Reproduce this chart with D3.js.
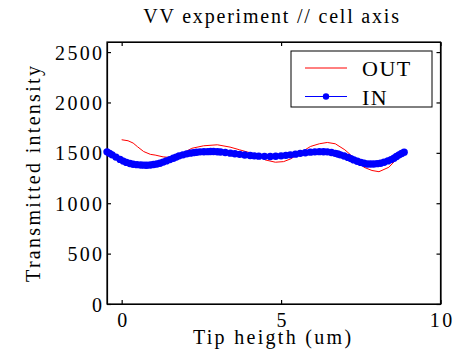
<!DOCTYPE html>
<html>
<head>
<meta charset="utf-8">
<script src="https://cdn.jsdelivr.net/npm/d3@7"></script>
<style>
    body { margin: 0; background: #ffffff; }
</style>
</head>
<body>
<div id="chart"></div>
<script>
// Tip height (um) and transmitted intensity
const outX = [0.0, 0.2, 0.36, 0.5, 0.69, 0.9, 1.05, 1.3, 1.5, 1.7, 2.0, 2.2, 2.57, 3.0, 3.4, 3.7, 4.0, 4.3, 4.5,
    4.82, 5.08, 5.3, 5.6, 5.92, 6.2, 6.45, 6.7, 7.0, 7.18, 7.4, 7.6, 7.85, 8.07, 8.38, 8.6, 8.8];
const outY = [1630, 1620, 1597, 1560, 1513, 1485, 1478, 1460, 1455, 1470, 1510, 1545, 1570, 1580, 1557, 1530, 1503, 1470, 1430,
    1407, 1413, 1440, 1500, 1563, 1590, 1603, 1590, 1530, 1480, 1420, 1357, 1325, 1313, 1357, 1430, 1480];

const inX = [-0.46, -0.38, -0.3, -0.18, -0.05, 0.05, 0.15, 0.26, 0.36, 0.48, 0.6, 0.7, 0.79, 0.9, 1.0, 1.1, 1.2, 1.3, 1.4,
    1.51, 1.62, 1.71, 1.8, 1.92, 2.04, 2.15, 2.25, 2.35, 2.46, 2.58, 2.7, 2.79, 2.88, 3.0, 3.1, 3.25, 3.41, 3.55, 3.7,
    3.86, 4.03, 4.16, 4.3, 4.48, 4.66, 4.83, 5.0, 5.15, 5.29, 5.45, 5.6, 5.76, 5.92, 6.06, 6.2, 6.33, 6.45, 6.58, 6.7,
    6.78, 6.86, 6.98, 7.1, 7.19, 7.28, 7.39, 7.5, 7.6, 7.7, 7.8, 7.9, 8.01, 8.12, 8.23, 8.35, 8.45, 8.54, 8.62, 8.7, 8.78, 8.86];
const inY = [1510, 1495, 1480, 1458, 1435, 1418, 1405, 1395, 1387, 1383, 1380, 1378, 1377, 1380, 1385, 1390, 1397, 1408, 1420,
    1433, 1447, 1458, 1470, 1480, 1490, 1497, 1502, 1506, 1510, 1511, 1512, 1513, 1513, 1511, 1508, 1503, 1497, 1491, 1485,
    1479, 1473, 1470, 1467, 1465, 1463, 1466, 1470, 1475, 1480, 1487, 1495, 1501, 1507, 1510, 1512, 1511, 1510, 1503, 1495,
    1488, 1480, 1468, 1455, 1443, 1430, 1417, 1405, 1397, 1390, 1389, 1390, 1393, 1397, 1407, 1420, 1433, 1447, 1463, 1480, 1493, 1507];

const xTicks = [0, 5, 10];
const yTicks = [0, 500, 1000, 1500, 2000, 2500];
const seriesNames = ["OUT", "IN"];
const seriesColors = ["#ff0000", "#0000ff"];

const width = 460;
const height = 355;
const plot = {left: 107, right: 440.5, top: 42, bottom: 304};
const spacing = 2.3;
const fontFamily = "'Liberation Serif', 'Times New Roman', 'DejaVu Serif', serif";

let svg = d3.select("#chart")
    .append("svg")
    .attr("width", width)
    .attr("height", height);

let xScale = d3.scaleLinear()
    .domain([-0.46, 10])
    .range([plot.left, plot.right]);

let yScale = d3.scaleLinear()
    .domain([0, 2600])
    .range([plot.bottom, plot.top]);

// Draws the box with inward ticks on all four sides
function drawAxes(svg) {
    let axes = svg.append("g").attr("class", "axes");

    let bottom = axes.append("g")
        .attr("transform", "translate(0," + plot.bottom + ")")
        .call(d3.axisBottom(xScale).tickValues(xTicks).tickSize(-4).tickSizeOuter(0).tickFormat(d3.format("d")));
    bottom.selectAll("text")
        .attr("y", 23)
        .attr("dy", 0)
        .attr("dx", spacing / 2);

    axes.append("g")
        .attr("transform", "translate(0," + plot.top + ")")
        .call(d3.axisTop(xScale).tickValues(xTicks).tickSize(-4).tickSizeOuter(0).tickFormat(""));

    let left = axes.append("g")
        .attr("transform", "translate(" + plot.left + ",0)")
        .call(d3.axisLeft(yScale).tickValues(yTicks).tickSize(-4).tickSizeOuter(0).tickPadding(5)
            .tickFormat(d3.format("d")));
    left.selectAll("text")
        .attr("dx", spacing)
        .attr("dy", "0.35em");

    axes.append("g")
        .attr("transform", "translate(" + plot.right + ",0)")
        .call(d3.axisRight(yScale).tickValues(yTicks).tickSize(-4).tickSizeOuter(0).tickFormat(""));

    axes.selectAll("g").attr("font-family", null).attr("font-size", null);
    axes.selectAll("text")
        .style("font-family", fontFamily)
        .style("font-size", "20px")
        .style("letter-spacing", spacing + "px")
        .attr("fill", "#000000");
    axes.selectAll("path, line")
        .attr("stroke", "#000000")
        .attr("stroke-width", 1.2);

    // close the box
    axes.append("rect")
        .attr("x", plot.left)
        .attr("y", plot.top)
        .attr("width", plot.right - plot.left)
        .attr("height", plot.bottom - plot.top)
        .attr("fill", "none")
        .attr("stroke", "#000000")
        .attr("stroke-width", 1.2);
}

// Draws one series as a line, optionally with markers
function drawSeries(svg, xs, ys, color, lineWidth, markerRadius) {
    let pts = xs.map(function (d, i) { return [d, ys[i]]; });
    let line = d3.line()
        .x(function (d) { return xScale(d[0]); })
        .y(function (d) { return yScale(d[1]); });

    svg.append("path")
        .datum(pts)
        .attr("d", line)
        .attr("fill", "none")
        .attr("stroke", color)
        .attr("stroke-width", lineWidth);

    if (markerRadius > 0) {
        svg.append("g")
            .selectAll("circle")
            .data(pts)
            .enter()
            .append("circle")
            .attr("cx", function (d) { return xScale(d[0]); })
            .attr("cy", function (d) { return yScale(d[1]); })
            .attr("r", markerRadius)
            .attr("fill", color);
    }
}

// Adds a text with the chart's serif look
function addText(parent, x, y, str, size, anchor, ls) {
    return parent.append("text")
        .attr("x", x)
        .attr("y", y)
        .style("font-family", fontFamily)
        .style("font-size", size + "px")
        .style("letter-spacing", ls + "px")
        .style("text-anchor", anchor)
        .attr("fill", "#000000")
        .text(str);
}

drawAxes(svg);
drawSeries(svg, outX, outY, seriesColors[0], 1, 0);
drawSeries(svg, inX, inY, seriesColors[1], 2, 3.7);

// legend
let legend = svg.append("g").attr("class", "legend");
legend.append("rect")
    .attr("x", 291)
    .attr("y", 51)
    .attr("width", 141)
    .attr("height", 56)
    .attr("fill", "#ffffff")
    .attr("stroke", "#000000")
    .attr("stroke-width", 1);

seriesNames.forEach(function (name, i) {
    let ly = 68 + i * 28.5;
    legend.append("line")
        .attr("x1", 305)
        .attr("x2", 347)
        .attr("y1", ly)
        .attr("y2", ly)
        .attr("stroke", seriesColors[i])
        .attr("stroke-width", 1);
    if (i === 1) {
        legend.append("circle")
            .attr("cx", 326)
            .attr("cy", ly)
            .attr("r", 3.2)
            .attr("fill", seriesColors[i]);
    }
    addText(legend, 362, ly + 8, name, 22, "start", 1.5);
});

// title
addText(svg, 271 + 1, 23, "VV experiment // cell axis", 20, "middle", 1.8);

// text label for the x axis
addText(svg, 272 + spacing / 2, 344, "Tip heigth (um)", 20, "middle", spacing);

// text label for the y axis
addText(svg, spacing / 2, 0, "Transmitted intensity", 20, "middle", spacing)
    .attr("transform", "translate(40,174) rotate(-90)");
</script>
</body>
</html>
